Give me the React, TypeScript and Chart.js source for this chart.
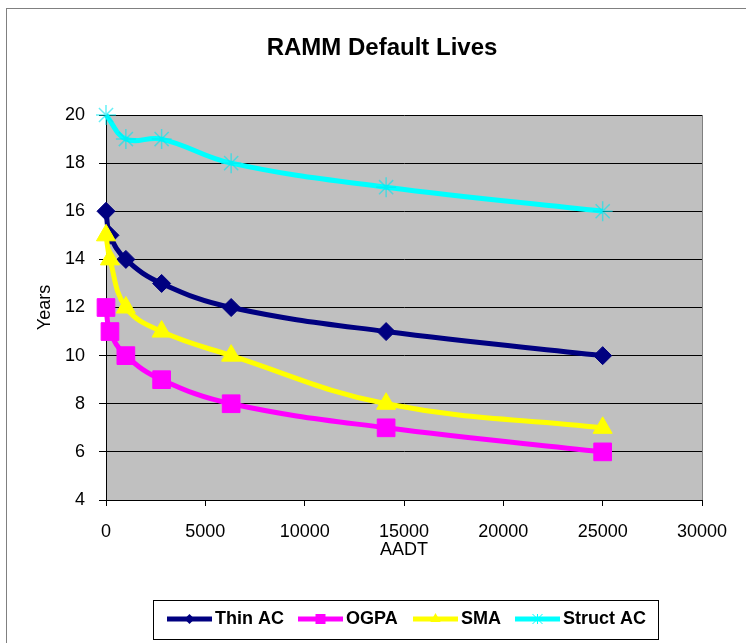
import React, { useEffect, useRef } from "react";
import { Chart, registerables } from "chart.js";

Chart.register(...registerables);

const aadt = [0, 200, 1000, 2800, 6300, 14100, 25000];
const thinAC = [16, 15, 14, 13, 12, 11, 10];
const ogpa = [12, 11, 10, 9, 8, 7, 6];
const sma = [15, 14, 12, 11, 10, 8, 7];
const structAadt = [0, 1000, 2800, 6300, 14100, 25000];
const structAC = [20, 19, 19, 18, 17, 16];

const seriesNames = ["Thin AC", "OGPA", "SMA", "Struct AC"];
const seriesColors = ["#000080", "#FF00FF", "#FFFF00", "#00FFFF"];
const xTickMin = 0;
const xTickMax = 30000;
const xStep = 5000;
const yTickMin = 4;
const yTickMax = 20;
const yStep = 2;

const FONT = "'Liberation Sans', Arial, sans-serif";

function pts(xs: number[], ys: number[]) {
  return xs.map((x, i) => ({ x, y: ys[i] }));
}

function drawMarker(ctx: CanvasRenderingContext2D, kind: string, x: number, y: number, color: string) {
  ctx.save();
  ctx.fillStyle = color;
  ctx.strokeStyle = color;
  ctx.beginPath();
  if (kind === "diamond") {
    const r = 5;
    ctx.moveTo(x, y - r);
    ctx.lineTo(x + r, y);
    ctx.lineTo(x, y + r);
    ctx.lineTo(x - r, y);
    ctx.closePath();
    ctx.fill();
  } else if (kind === "square") {
    const r = 5;
    ctx.rect(x - r, y - r, 2 * r, 2 * r);
    ctx.fill();
  } else if (kind === "triangle") {
    const r = 6;
    ctx.moveTo(x, y - r);
    ctx.lineTo(x + r * 0.866, y + r * 0.5);
    ctx.lineTo(x - r * 0.866, y + r * 0.5);
    ctx.closePath();
    ctx.fill();
  } else {
    const r = 5;
    ctx.lineWidth = 1;
    ctx.moveTo(x - r, y - r);
    ctx.lineTo(x + r, y + r);
    ctx.moveTo(x + r, y - r);
    ctx.lineTo(x - r, y + r);
    ctx.moveTo(x, y - r);
    ctx.lineTo(x, y + r);
    ctx.stroke();
  }
  ctx.restore();
}

const decorPlugin = {
  id: "decor",
  beforeDraw(chart: any) {
    const { ctx, chartArea } = chart;
    const { left, top, right, bottom } = chartArea;
    ctx.save();
    ctx.fillStyle = "#FFFFFF";
    ctx.fillRect(0, 0, chart.width, chart.height);
    ctx.strokeStyle = "#808080";
    ctx.lineWidth = 1;
    ctx.strokeRect(6.5, 8.5, chart.width + 10, chart.height + 10);
    ctx.fillStyle = "#C0C0C0";
    ctx.fillRect(left, top, right - left, bottom - top);
    ctx.strokeStyle = "#808080";
    ctx.beginPath();
    ctx.moveTo(Math.round(right) + 0.5, top);
    ctx.lineTo(Math.round(right) + 0.5, bottom);
    ctx.stroke();
    ctx.restore();
  },
  afterDraw(chart: any) {
    const { ctx } = chart;
    ctx.save();
    // Title
    ctx.fillStyle = "#000";
    ctx.font = `bold 24px ${FONT}`;
    ctx.textAlign = "center";
    ctx.textBaseline = "alphabetic";
    ctx.fillText("RAMM Default Lives", 382, 55);

    // Legend
    ctx.strokeStyle = "#000";
    ctx.lineWidth = 1;
    ctx.strokeRect(153.5, 600.5, 505, 39);
    const markers = ["diamond", "square", "triangle", "star"];
    const lineStarts = [167, 298, 413, 515];
    const ly = 619;
    ctx.font = `bold 18px ${FONT}`;
    ctx.textAlign = "left";
    ctx.textBaseline = "middle";
    chart.data.datasets.forEach((ds: any, i: number) => {
      const x0 = lineStarts[i];
      const x1 = x0 + 45;
      ctx.strokeStyle = ds.borderColor;
      ctx.lineWidth = 5;
      ctx.beginPath();
      ctx.moveTo(x0, ly);
      ctx.lineTo(x1, ly);
      ctx.stroke();
      drawMarker(ctx, markers[i], (x0 + x1) / 2, ly, ds.borderColor);
      ctx.fillStyle = "#000";
      ctx.fillText(ds.label, x1 + 3, ly);
    });
    ctx.restore();
  },
};

export default function App() {
  const canvasRef = useRef<HTMLCanvasElement>(null);

  useEffect(() => {
    if (!canvasRef.current) return;
    const common = {
      showLine: true,
      borderWidth: 5,
      tension: 0.4,
      clip: false as any,
      pointBorderWidth: 1,
    };
    const chart = new Chart(canvasRef.current, {
      type: "scatter",
      data: {
        datasets: [
          {
            ...common,
            label: seriesNames[0],
            data: pts(aadt, thinAC),
            borderColor: seriesColors[0],
            backgroundColor: seriesColors[0],
            pointStyle: "rectRot",
            pointRadius: 9,
            order: 4,
          },
          {
            ...common,
            label: seriesNames[1],
            data: pts(aadt, ogpa),
            borderColor: seriesColors[1],
            backgroundColor: seriesColors[1],
            pointStyle: "rect",
            pointRadius: 12.5,
            order: 3,
          },
          {
            ...common,
            label: seriesNames[2],
            data: pts(aadt, sma),
            borderColor: seriesColors[2],
            backgroundColor: seriesColors[2],
            pointStyle: "triangle",
            pointRadius: 11,
            order: 2,
          },
          {
            ...common,
            label: seriesNames[3],
            data: pts(structAadt, structAC),
            borderColor: seriesColors[3],
            backgroundColor: seriesColors[3],
            pointStyle: "star",
            pointRadius: 10,
            pointBorderWidth: 1.5,
            pointBorderColor: "rgba(0,230,240,0.6)",
            order: 1,
          },
        ],
      },
      options: {
        animation: false,
        responsive: false,
        devicePixelRatio: 1,
        layout: { padding: { left: 0, right: 44, top: 115, bottom: 0 } },
        plugins: {
          legend: { display: false },
          title: { display: false },
          tooltip: { enabled: false },
        },
        scales: {
          x: {
            type: "linear",
            min: xTickMin,
            max: xTickMax,
            ticks: {
              stepSize: xStep,
              color: "#000",
              font: { family: FONT, size: 18 },
              padding: 15,
              maxRotation: 0,
              autoSkip: false,
              callback: (v: any) => String(v),
            },
            grid: {
              drawOnChartArea: false,
              drawTicks: true,
              tickLength: 6,
              color: "#000",
            },
            border: { display: true, color: "#000", width: 1 },
            title: {
              display: true,
              text: "AADT",
              color: "#000",
              font: { family: FONT, size: 18 },
              padding: { top: 0, bottom: 82 },
            },
            afterFit: (s: any) => {
              s.height = 143;
            },
          },
          y: {
            type: "linear",
            min: yTickMin,
            max: yTickMax,
            ticks: {
              stepSize: yStep,
              color: "#000",
              font: { family: FONT, size: 18 },
              padding: 14,
              callback: (v: any) => String(v),
            },
            grid: {
              color: "#000",
              drawTicks: true,
              tickLength: 7,
            },
            border: { display: true, color: "#000", width: 1 },
            title: {
              display: true,
              text: "Years",
              color: "#000",
              font: { family: FONT, size: 18 },
              padding: { top: 34, bottom: 0 },
            },
            afterFit: (s: any) => {
              s.width = 106;
            },
          },
        },
      } as any,
      plugins: [decorPlugin],
    });
    return () => chart.destroy();
  }, []);

  return (
    <div style={{ position: "absolute", left: 0, top: 0, width: 746, height: 643 }}>
      <canvas ref={canvasRef} width={746} height={643} style={{ display: "block" }} />
    </div>
  );
}
